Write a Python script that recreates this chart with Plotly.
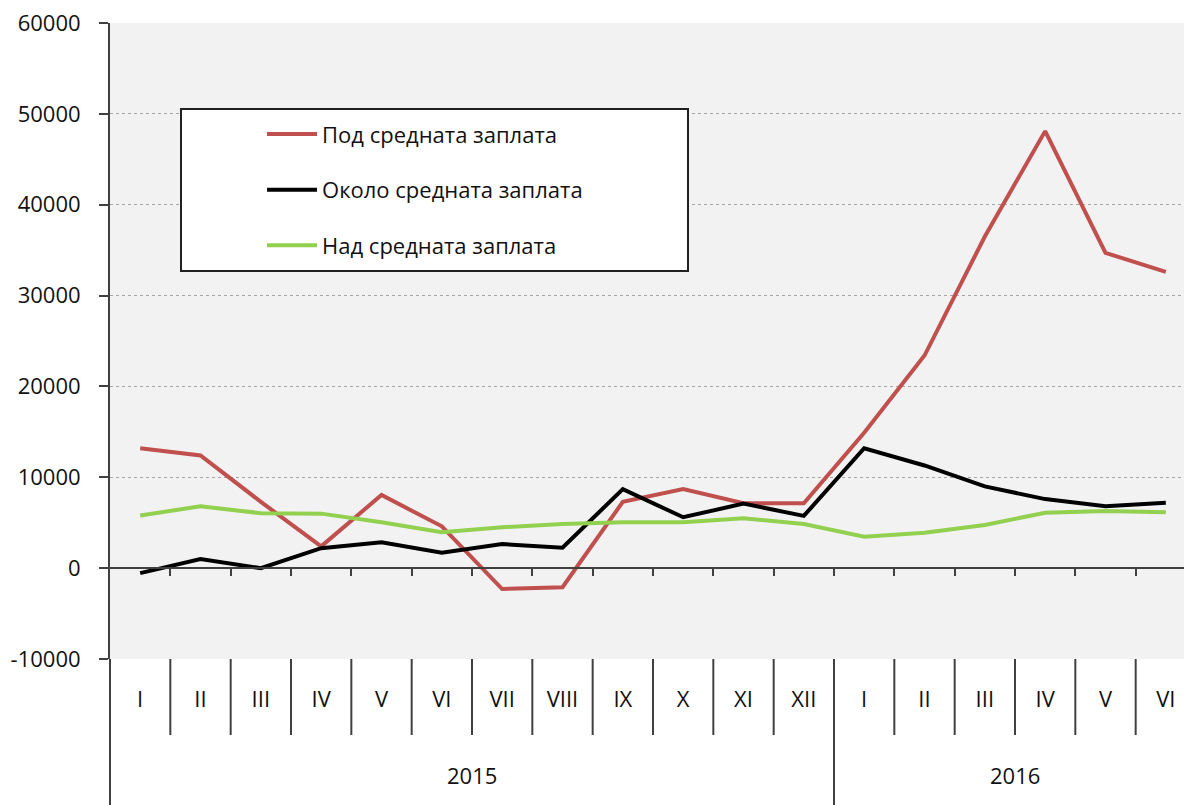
import plotly.graph_objects as go

# months and years for the two-level category axis
months = ["I", "II", "III", "IV", "V", "VI", "VII", "VIII", "IX", "X", "XI", "XII",
          "I", "II", "III", "IV", "V", "VI"]
years = ["2015"] * 12 + ["2016"] * 6

# y axis ticks
ytick_vals = [-10000, 0, 10000, 20000, 30000, 40000, 50000, 60000]
ytick_text = ["-10000", "0", "10000", "20000", "30000", "40000", "50000", "60000"]

# series values
below_avg = [13200, 12400, 7300, 2400, 8050, 4600, -2300, -2100, 7300, 8700, 7150, 7150,
             14900, 23400, 36500, 48100, 34700, 32600]
around_avg = [-550, 1000, 0, 2200, 2850, 1700, 2650, 2250, 8700, 5600, 7100, 5750,
              13200, 11300, 9000, 7600, 6800, 7200]
above_avg = [5800, 6800, 6050, 6000, 5050, 3950, 4500, 4850, 5050, 5050, 5500, 4850,
             3450, 3900, 4750, 6100, 6300, 6150]

names = ["Под средната заплата", "Около средната заплата", "Над средната заплата"]
colors = ["#c0504d", "#000000", "#92d050"]

ymin, ymax = -10000, 60000
x = list(range(len(months)))
xrange_ = [-0.5, 17.5]
font = "Open Sans"
txt_col = "#111111"
axis_col = "#404040"

# page body adds 8px, so the figure margins are 8px smaller than the target
W, H = 1192, 805
ml, mr, mt, mb = 102, 4, 15, 154
plot_w = W - ml - mr
plot_h = H - mt - mb

fig = go.Figure()
for i, vals in enumerate([below_avg, around_avg, above_avg]):
    fig.add_trace(go.Scatter(x=x, y=vals, mode="lines", name=names[i],
                             legendgroup=str(i),
                             line=dict(color=colors[i], width=4)))

fig.update_layout(
    width=W, height=H,
    margin=dict(l=ml, r=mr, t=mt, b=mb, autoexpand=False),
    paper_bgcolor="white",
    plot_bgcolor="#f2f2f2",
    font=dict(family=font, size=22, color=txt_col),
    showlegend=True,
    legend=dict(x=0.140, y=0.858, xanchor="left", yanchor="top",
                bgcolor="rgba(0,0,0,0)", borderwidth=0,
                tracegroupgap=24, itemwidth=50,
                font=dict(family=font, size=22, color=txt_col)),
    xaxis=dict(range=xrange_, tickmode="array", tickvals=x, ticktext=months,
               showgrid=False, zeroline=False, showline=False, ticks="",
               ticklabelstandoff=25, automargin=False, fixedrange=True),
    xaxis2=dict(overlaying="x", anchor="free",
                position=(0 - ymin) / (ymax - ymin),
                range=xrange_, tickmode="array",
                tickvals=[b + 0.5 for b in range(17)],
                showticklabels=False, ticks="outside", ticklen=7,
                tickwidth=2, tickcolor=axis_col,
                showline=True, linecolor=axis_col, linewidth=2,
                showgrid=False, zeroline=False, automargin=False),
    yaxis=dict(range=[ymin, ymax], tickmode="array", tickvals=ytick_vals, ticktext=ytick_text,
               showgrid=True, gridcolor="#a6a6a6", griddash="dot", gridwidth=1,
               zeroline=False, showline=True, linecolor=axis_col, linewidth=2,
               ticks="outside", ticklen=9, tickwidth=2, tickcolor=axis_col,
               ticklabelstandoff=14, ticklabeloverflow="allow", automargin=False),
)

# invisible trace so the zero axis is drawn
fig.add_trace(go.Scatter(x=[0], y=[0], xaxis="x2", mode="markers",
                         marker=dict(opacity=0), showlegend=False, hoverinfo="skip"))

# category dividers below the plot area
short = -76 / plot_h
full = -146 / plot_h
for b in range(len(months) - 1):
    bx = b + 0.5
    long_line = years[b] != years[b + 1]
    fig.add_shape(type="line", xref="x", yref="paper", x0=bx, x1=bx, y0=0,
                  y1=full if long_line else short,
                  line=dict(color=axis_col, width=2))
fig.add_shape(type="line", xref="paper", yref="paper", x0=0, x1=0, y0=0, y1=full,
              line=dict(color=axis_col, width=2))

# year labels centred under their months
for yr in ["2015", "2016"]:
    idx = [i for i, v in enumerate(years) if v == yr]
    fig.add_annotation(x=(idx[0] + idx[-1]) / 2, y=-116 / plot_h, xref="x", yref="paper",
                       yanchor="middle", text=yr, showarrow=False,
                       font=dict(family=font, size=22, color=txt_col))

# legend frame
fig.add_shape(type="rect", xref="paper", yref="paper",
              x0=(181 - 110) / plot_w, x1=(688 - 110) / plot_w,
              y0=(659 - 271) / plot_h, y1=(659 - 109) / plot_h,
              line=dict(color="#202020", width=2), fillcolor="white", layer="above")

fig.write_html("out.html")
